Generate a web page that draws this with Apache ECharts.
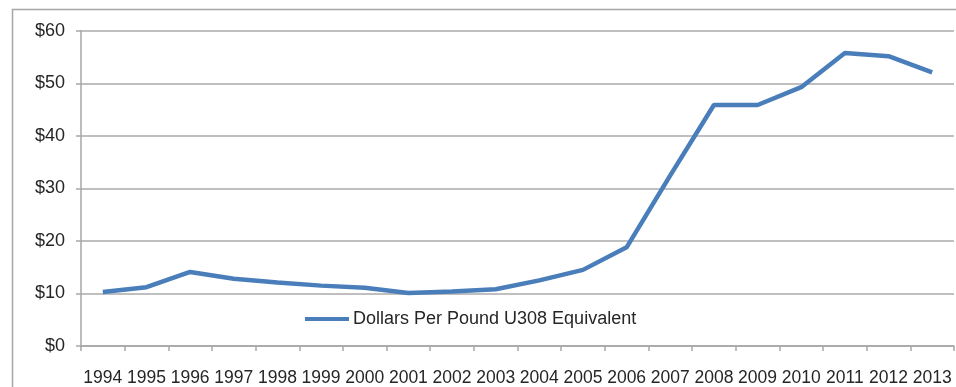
<!DOCTYPE html>
<html><head><meta charset="utf-8">
<script src="https://cdn.jsdelivr.net/npm/echarts@6/dist/echarts.min.js"></script>
<style>html,body{margin:0;padding:0;background:#fff}#c{width:956px;height:387px}</style>
</head><body><div id="c"></div>
<script>
const years = ['1994','1995','1996','1997','1998','1999','2000','2001','2002','2003','2004','2005','2006','2007','2008','2009','2010','2011','2012','2013'];
const prices = [10.3, 11.2, 14.1, 12.8, 12.1, 11.5, 11.1, 10.1, 10.4, 10.8, 12.5, 14.5, 18.8, 32.5, 45.9, 45.9, 49.3, 55.8, 55.2, 52.1];
const yTicks = [0, 10, 20, 30, 40, 50, 60];
const seriesName = 'Dollars Per Pound U308 Equivalent';

const chart = echarts.init(document.getElementById('c'), null, {renderer: 'canvas'});
const font = 'Liberation Sans';
chart.setOption({
  animation: false,
  graphic: [{
    type: 'rect', left: 10, top: 7, z: -1,
    shape: {width: 960, height: 400},
    style: {fill: 'none', stroke: '#a6a6a6', lineWidth: 1.5}
  }],
  grid: {left: 81, right: 2, top: 31, bottom: 40, containLabel: false},
  legend: {
    data: [seriesName], left: 300, top: 305,
    itemWidth: 44, itemHeight: 4, itemGap: 4,
    icon: 'rect',
    textStyle: {fontFamily: font, fontSize: 18, color: '#262626', padding: [0, 0, 0, -1]}
  },
  xAxis: {
    type: 'category', data: years, boundaryGap: true,
    axisLine: {lineStyle: {color: '#a6a6a6', width: 1.5}},
    axisTick: {show: true, length: 5, alignWithLabel: false, lineStyle: {color: '#a6a6a6', width: 1.5}},
    axisLabel: {interval: 0, fontFamily: font, fontSize: 17.5, color: '#262626', margin: 23, verticalAlign: 'top', lineHeight: 18}
  },
  yAxis: {
    type: 'value', min: yTicks[0], max: yTicks[yTicks.length-1], interval: 10,
    axisLine: {show: true, lineStyle: {color: '#a6a6a6', width: 1.5}},
    axisTick: {show: true, length: 5, lineStyle: {color: '#a6a6a6', width: 1.5}},
    splitLine: {lineStyle: {color: '#bfbfbf', width: 1.8}},
    axisLabel: {fontFamily: font, fontSize: 18, color: '#262626', margin: 16, formatter: v => '$' + v}
  },
  series: [{
    name: seriesName, type: 'line', data: prices,
    symbol: 'none', smooth: false,
    lineStyle: {color: '#4a7ebb', width: 4.5},
    itemStyle: {color: '#4a7ebb'}
  }]
});
</script></body></html>
